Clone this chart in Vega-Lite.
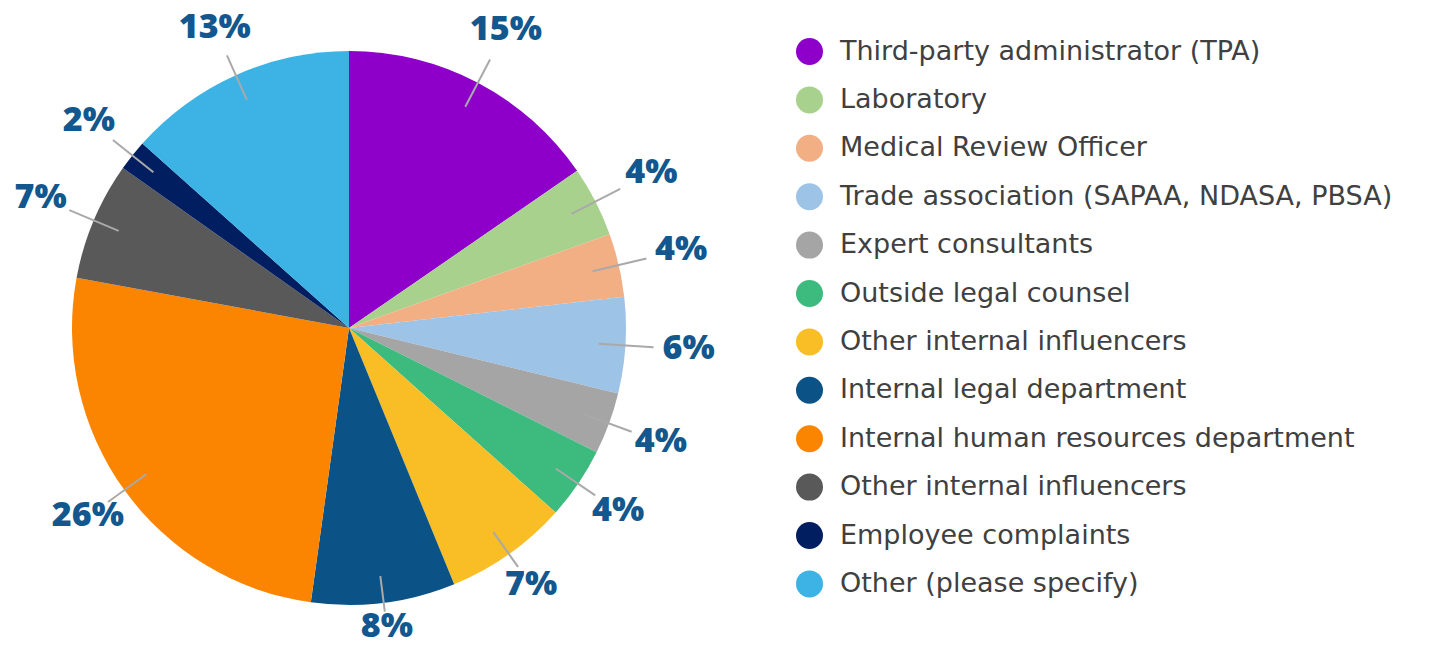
{
  "$schema": "https://vega.github.io/schema/vega-lite/v6.json",
  "width": 698,
  "height": 656,
  "padding": 0,
  "background": "white",
  "config": {"view": {"stroke": null}},
  "data": {
    "values": [
      {"source": "Third-party administrator (TPA)", "share": 0.154},
      {"source": "Laboratory", "share": 0.041},
      {"source": "Medical Review Officer", "share": 0.037},
      {"source": "Trade association (SAPAA, NDASA, PBSA)", "share": 0.056},
      {"source": "Expert consultants", "share": 0.036},
      {"source": "Outside legal counsel", "share": 0.042},
      {"source": "Other internal influencers", "share": 0.072},
      {"source": "Internal legal department", "share": 0.084},
      {"source": "Internal human resources department", "share": 0.257},
      {"source": "Other internal influencers ", "share": 0.069},
      {"source": "Employee complaints", "share": 0.018},
      {"source": "Other (please specify)", "share": 0.134}
    ]
  },
  "transform": [{"window": [{"op": "row_number", "as": "idx"}]}],
  "layer": [
    {
      "transform": [
        {"stack": "share", "groupby": [], "sort": [{"field": "idx", "order": "ascending"}], "as": ["s0", "s1"]}
      ],
      "mark": {"type": "arc", "radius": 277, "strokeWidth": 0},
      "encoding": {
        "theta": {"field": "s0", "type": "quantitative", "stack": null, "scale": {"domain": [0, 1]}},
        "theta2": {"field": "s1"},
        "color": {
          "field": "source",
          "type": "nominal",
          "scale": {
            "domain": [
              "Third-party administrator (TPA)",
              "Laboratory",
              "Medical Review Officer",
              "Trade association (SAPAA, NDASA, PBSA)",
              "Expert consultants",
              "Outside legal counsel",
              "Other internal influencers",
              "Internal legal department",
              "Internal human resources department",
              "Other internal influencers ",
              "Employee complaints",
              "Other (please specify)"
            ],
            "range": ["#8E00CA", "#A9D18E", "#F2AF84", "#9DC3E6", "#A5A5A5", "#3DBA7E", "#F9BE26", "#0B5387", "#FB8500", "#595959", "#001E60", "#3CB3E4"]
          },
          "legend": {
            "title": null,
            "orient": "none",
            "legendX": 796,
            "legendY": 38,
            "padding": 0,
            "symbolType": "circle",
            "symbolSize": 729,
            "symbolStrokeWidth": 0,
            "symbolOpacity": 1,
            "labelFont": "DejaVu Sans",
            "labelFontSize": 27,
            "labelColor": "#404040",
            "labelOffset": 17,
            "labelLimit": 700,
            "rowPadding": 20.4
          }
        }
      }
    },
    {
      "transform": [
        {"fold": ["share", "share"], "as": ["key", "v"]},
        {"window": [{"op": "row_number", "as": "h"}], "groupby": ["source"]},
        {"stack": "v", "groupby": [], "sort": [{"field": "idx", "order": "ascending"}, {"field": "h", "order": "ascending"}], "as": ["s0", "s1"]},
        {"filter": "datum.h == 1"}
      ],
      "mark": {"type": "arc", "radius2": 250, "filled": false, "stroke": "#A9A9A9", "strokeWidth": 2},
      "encoding": {
        "theta": {"field": "s1", "type": "quantitative", "stack": null, "scale": {"domain": [0, 2]}},
        "theta2": {"field": "s1"},
        "radius": {"field": "s1", "type": "quantitative", "scale": {"type": "linear", "zero": false, "domain": [0, 0.5, 1, 1.5, 2], "range": [302, 306, 284, 306, 296]}}
      }
    },
    {
      "transform": [
        {"fold": ["share", "share"], "as": ["key", "v"]},
        {"window": [{"op": "row_number", "as": "h"}], "groupby": ["source"]},
        {"stack": "v", "groupby": [], "sort": [{"field": "idx", "order": "ascending"}, {"field": "h", "order": "ascending"}], "as": ["s0", "s1"]},
        {"filter": "datum.h == 1"}
      ],
      "mark": {"type": "text", "font": "Open Sans", "fontWeight": 800, "fontSize": 34, "color": "#12578D", "align": "center", "baseline": "middle"},
      "encoding": {
        "theta": {"field": "s1", "type": "quantitative", "stack": null, "scale": {"domain": [0, 2]}},
        "radius": {"field": "s1", "type": "quantitative", "scale": {"type": "linear", "zero": false, "domain": [0, 0.5, 1, 1.5, 2], "range": [335, 342, 298, 338, 325]}},
        "text": {"field": "share", "type": "quantitative", "format": ".0%"}
      }
    }
  ],
  "resolve": {"scale": {"theta": "independent", "radius": "independent"}}
}
